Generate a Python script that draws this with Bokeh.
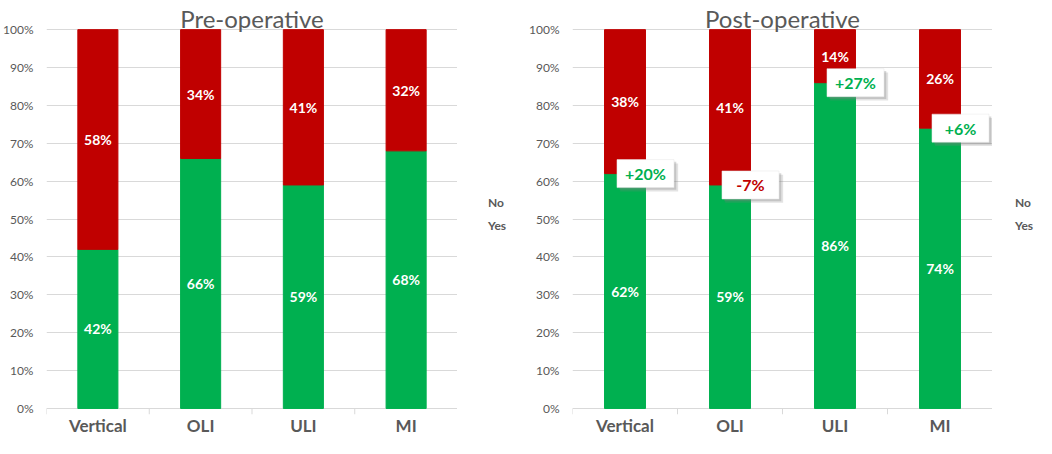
from bokeh.plotting import figure
from bokeh.models import (ColumnDataSource, Range1d, FixedTicker, NumeralTickFormatter,
                          Legend, LegendItem)
from bokeh.layouts import row
from bokeh.transform import dodge
from bokeh.core.properties import value
from bokeh.embed import file_html
from bokeh.resources import INLINE

categories = ["Vertical", "OLI", "ULI", "MI"]
pre_yes = [42, 66, 59, 68]
pre_no = [58, 34, 41, 32]
post_yes = [62, 59, 86, 74]
post_no = [38, 41, 14, 26]
post_change = ["+20%", "-7%", "+27%", "+6%"]
y_ticks = [0, 10, 20, 30, 40, 50, 60, 70, 80, 90, 100]
series_names = ["No", "Yes"]

RED = "#C00000"
GREEN = "#00B050"
GREY = "#595959"
LINE = "#d9d9d9"
FONT = "Lato"
BAR_W = 0.39
PX = 377.0            # pixels per 100 %
Y0 = -6 / PX          # room for the small ticks under the base line
Y1 = 406 / PX
H = 438


def make_panel(title, yes, no, left_border, changes=None):
    p = figure(x_range=categories, y_range=Range1d(Y0, Y1), width=left_border + 420, height=H,
               output_backend="svg", toolbar_location=None,
               min_border_left=left_border, min_border_right=0,
               min_border_top=0, min_border_bottom=20)
    p.outline_line_color = None
    p.background_fill_color = "white"

    p.yaxis.ticker = FixedTicker(ticks=[t / 100 for t in y_ticks])
    p.yaxis.formatter = NumeralTickFormatter(format="0%")
    p.yaxis.axis_line_color = None
    p.yaxis.major_tick_line_color = None
    p.yaxis.minor_tick_line_color = None
    p.yaxis.major_label_text_font = FONT
    p.yaxis.major_label_text_font_size = "12px"
    p.yaxis.major_label_text_color = GREY
    p.yaxis.major_label_standoff = 7
    p.ygrid.grid_line_color = LINE
    p.ygrid.grid_line_width = 1
    p.xgrid.visible = False

    p.xaxis.axis_line_color = None
    p.xaxis.major_tick_line_color = None
    p.xaxis.major_tick_out = 0
    p.xaxis.major_label_text_font = FONT
    p.xaxis.major_label_text_font_size = "17px"
    p.xaxis.major_label_text_font_style = "bold"
    p.xaxis.major_label_text_color = GREY
    p.xaxis.major_label_standoff = 0

    # Excel-style ticks between categories
    tsrc = ColumnDataSource(dict(cat=categories, y0=[0.0] * len(categories),
                                 y1=[Y0] * len(categories)))
    p.segment(x0=dodge("cat", -0.5, range=p.x_range), x1=dodge("cat", -0.5, range=p.x_range),
              y0="y0", y1="y1", line_color=LINE, line_width=1, source=tsrc)
    esrc = ColumnDataSource(dict(cat=categories[-1:], y0=[0.0], y1=[Y0]))
    p.segment(x0=dodge("cat", 0.5, range=p.x_range), x1=dodge("cat", 0.5, range=p.x_range),
              y0="y0", y1="y1", line_color=LINE, line_width=1, source=esrc)

    src = ColumnDataSource(dict(
        cat=categories,
        yes=[v / 100 for v in yes],
        no_top=[1.0 for _ in no],
        yes_mid=[v / 200 for v in yes],
        no_mid=[(y + n / 2) / 100 for y, n in zip(yes, no)],
        yes_lab=[f"{v}%" for v in yes],
        no_lab=[f"{v}%" for v in no],
    ))
    p.vbar(x="cat", top="yes", bottom=0, width=BAR_W, color=GREEN, source=src)
    p.vbar(x="cat", top="no_top", bottom="yes", width=BAR_W, color=RED, source=src)

    for ycol, lcol in (("yes_mid", "yes_lab"), ("no_mid", "no_lab")):
        p.text(x="cat", y=ycol, text=lcol, source=src, text_align="center",
               text_baseline="middle", text_color="white", text_font=value(FONT),
               text_font_size="14px", text_font_style="bold")

    if changes is not None:
        csrc = ColumnDataSource(dict(
            cat=categories,
            y=[v / 100 for v in yes],
            lab=changes,
            col=[GREEN if c.startswith("+") else RED for c in changes],
        ))
        p.rect(x=dodge("cat", BAR_W / 2 + 0.035, range=p.x_range),
               y=dodge("y", -0.010, range=p.y_range), width=58, height=28,
               width_units="screen", height_units="screen",
               fill_color="#7f7f7f", fill_alpha=0.22, line_color=None, source=csrc)
        p.rect(x=dodge("cat", BAR_W / 2 + 0.022, range=p.x_range),
               y=dodge("y", -0.006, range=p.y_range), width=57, height=28,
               width_units="screen", height_units="screen",
               fill_color="#7f7f7f", fill_alpha=0.3, line_color=None, source=csrc)
        p.rect(x=dodge("cat", BAR_W / 2, range=p.x_range), y="y", width=57, height=28,
               width_units="screen", height_units="screen",
               fill_color="white", line_color="#e6e6e6", line_width=0.5, source=csrc)
        p.text(x=dodge("cat", BAR_W / 2, range=p.x_range), y="y", text="lab",
               text_color="col", source=csrc, text_align="center", text_baseline="middle",
               text_font=value(FONT), text_font_size="16px", text_font_style="bold")

    hsrc = ColumnDataSource(dict(x=[categories[1]], y=[388 / PX], t=[title]))
    p.text(x=dodge("x", 0.5, range=p.x_range), y="y", text="t", source=hsrc,
           text_align="center", text_baseline="alphabetic", text_color=GREY,
           text_font=value(FONT), text_font_size="24px")
    return p


def make_legend(width, x_off):
    q = figure(width=width, height=H, x_range=Range1d(0, 1), y_range=Range1d(0, 1),
               output_backend="svg", toolbar_location=None,
               x_axis_location=None, y_axis_location=None, min_border=0)
    q.outline_line_color = None
    q.xgrid.visible = False
    q.ygrid.visible = False
    r_no = q.vbar(x=[], top=[], width=1, color=RED)
    r_yes = q.vbar(x=[], top=[], width=1, color=GREEN)
    legend = Legend(items=[LegendItem(label=series_names[0], renderers=[r_no]),
                           LegendItem(label=series_names[1], renderers=[r_yes])],
                    location=(x_off, 181), orientation="vertical")
    legend.glyph_width = 7
    legend.glyph_height = 7
    legend.label_text_font = FONT
    legend.label_text_font_size = "12px"
    legend.label_text_font_style = "bold"
    legend.label_text_color = GREY
    legend.label_standoff = 4
    legend.spacing = 8
    legend.padding = 0
    legend.margin = 0
    legend.border_line_color = None
    legend.background_fill_alpha = 0
    q.add_layout(legend, "center")
    return q


left = make_panel("Pre-operative", pre_yes, pre_no, 37)
left_legend = make_legend(61, 20)
right = make_panel("Post-operative", post_yes, post_no, 54, post_change)
right_legend = make_legend(44, 12)

layout = row(left, left_legend, right, right_legend)
open("out.html", "w").write(file_html(layout, INLINE))
